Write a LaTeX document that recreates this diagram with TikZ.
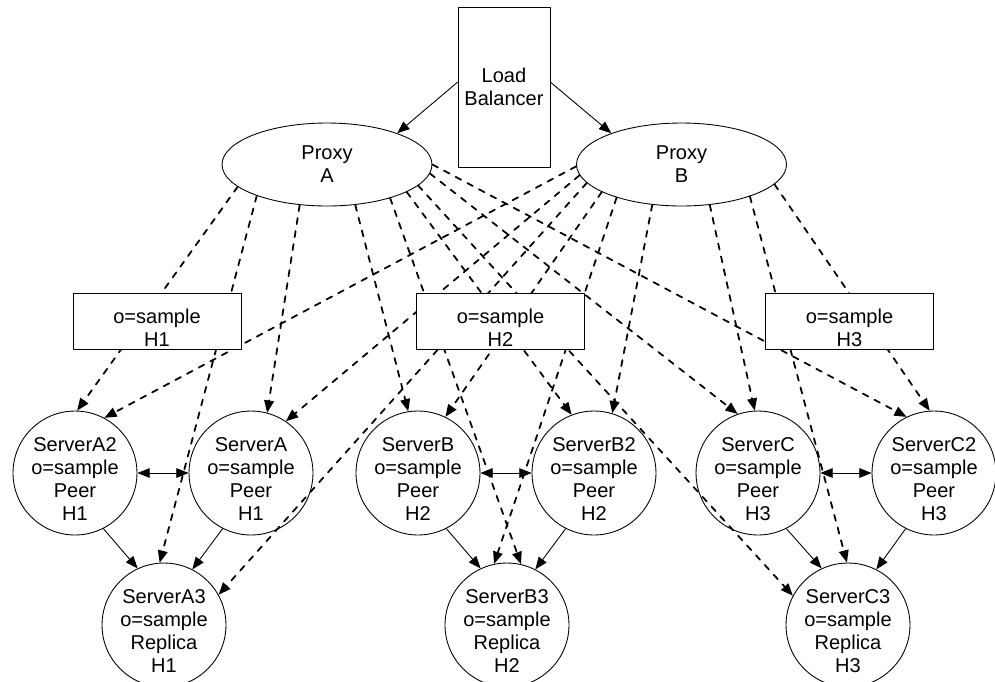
\documentclass[tikz,border=0pt]{standalone}
\usepackage{fontspec}
\setmainfont{Liberation Sans}
\usetikzlibrary{arrows.meta,shapes.geometric}

\begin{document}
\begin{tikzpicture}[x=0.02cm, y=-0.02cm, line cap=round, line join=round,
    font=\fontsize{11.4}{13.1}\selectfont,
    lbbox/.style={draw, line width=0.5pt, minimum width=1.84cm, minimum height=3.2cm,
                  inner sep=0pt, align=center},
    proxy/.style={ellipse, draw, line width=0.5pt, minimum width=4.2cm,
                  minimum height=1.66cm, inner sep=0pt, align=center},
    hostbox/.style={draw, fill=white, line width=0.5pt, minimum width=3.36cm,
                  minimum height=1.12cm, inner sep=0pt, align=center,
                  text height=29.6pt, text depth=0.3pt},       % text sits a bit low
    server/.style={circle, draw, fill=white, line width=0.5pt, minimum size=2.48cm,
                  inner sep=-6pt, align=center,
                  text height=54.5pt, text depth=-6.5pt},      % text sits a bit low
    query/.style={line width=1pt, dash pattern=on 3.5pt off 4pt,
                  -{Triangle[length=7pt,width=5.5pt]}},
    feed/.style={line width=0.5pt, -{Triangle[length=7pt,width=5.5pt]}},
    peer/.style={line width=0.5pt,
                  {Triangle[length=7pt,width=5.5pt]}-{Triangle[length=7pt,width=5.5pt]}}]

\useasboundingbox (0,0) rectangle (995,681);

% ---------------------------------------------------------
% Load balancer and proxies
% ---------------------------------------------------------
\node[lbbox] (LB) at (504,87) {Load\\Balancer};
\node[proxy] (ProxyA) at (327,164.5) {Proxy\\A};
\node[proxy] (ProxyB) at (681.5,164.5) {Proxy\\B};

% ---------------------------------------------------------
% Servers (peers in the middle row, replicas below)
% ---------------------------------------------------------
\node[server] (ServerA2) at (75,473)  {ServerA2\\o=sample\\Peer\\H1};
\node[server] (ServerA)  at (251,473) {ServerA\\o=sample\\Peer\\H1};
\node[server] (ServerB)  at (418,473) {ServerB\\o=sample\\Peer\\H2};
\node[server] (ServerB2) at (594,473) {ServerB2\\o=sample\\Peer\\H2};
\node[server] (ServerC)  at (758,473) {ServerC\\o=sample\\Peer\\H3};
\node[server] (ServerC2) at (934,473) {ServerC2\\o=sample\\Peer\\H3};

\node[server] (ServerA3) at (164,625) {ServerA3\\o=sample\\Replica\\H1};
\node[server] (ServerB3) at (507,625) {ServerB3\\o=sample\\Replica\\H2};
\node[server] (ServerC3) at (848,625) {ServerC3\\o=sample\\Replica\\H3};

% ---------------------------------------------------------
% Dashed routes from proxy A
% ---------------------------------------------------------
\draw[query] (ProxyA.194) -- (ServerA2.88);
\draw[query] (ProxyA.204) -- (ServerA3.94);
\draw[query] (ProxyA.236) -- (ServerA.75);
\draw[query] (ProxyA.305) -- (ServerB.99);
\draw[query] (ProxyA.332) -- (ServerB3.77);
\draw[query] (ProxyA.341) -- (ServerB2.111);
\draw[query] (ProxyA.347) -- (ServerC3.152);
\draw[query] (ProxyA.355) -- (ServerC.109);
\draw[query] (ProxyA.0)   -- (ServerC2.116);

% ---------------------------------------------------------
% Dashed routes from proxy B
% ---------------------------------------------------------
\draw[query] (ProxyB.181) -- (ServerA2.62);
\draw[query] (ProxyB.186) -- (ServerA.56);
\draw[query] (ProxyB.191) -- (ServerA3.29);
\draw[query] (ProxyB.199) -- (ServerB.64);
\draw[query] (ProxyB.207) -- (ServerB3.102);
\draw[query] (ProxyB.234) -- (ServerB2.73);
\draw[query] (ProxyB.305) -- (ServerC.93);
\draw[query] (ProxyB.335) -- (ServerC3.91);
\draw[query] (ProxyB.348) -- (ServerC2.94);

% ---------------------------------------------------------
% Host boxes (drawn over the routes)
% ---------------------------------------------------------
\node[hostbox] (H1) at (157,321)   {o=sample\\H1};
\node[hostbox] (H2) at (500.5,321) {o=sample\\H2};
\node[hostbox] (H3) at (849.5,321) {o=sample\\H3};

% ---------------------------------------------------------
% Solid connectors
% ---------------------------------------------------------
\draw[feed] (LB.174) -- (ProxyA.24);
\draw[feed] (LB.6)   -- (ProxyB.156);

\draw[peer] (ServerA2.east) -- (ServerA.west);
\draw[peer] (ServerB.east)  -- (ServerB2.west);
\draw[peer] (ServerC.east)  -- (ServerC2.west);

\draw[feed] (ServerA2.297) -- (ServerA3.115);
\draw[feed] (ServerA.243)  -- (ServerA3.63);
\draw[feed] (ServerB.297)  -- (ServerB3.115);
\draw[feed] (ServerB2.243) -- (ServerB3.63);
\draw[feed] (ServerC.297)  -- (ServerC3.115);
\draw[feed] (ServerC2.243) -- (ServerC3.63);

\end{tikzpicture}
\end{document}
